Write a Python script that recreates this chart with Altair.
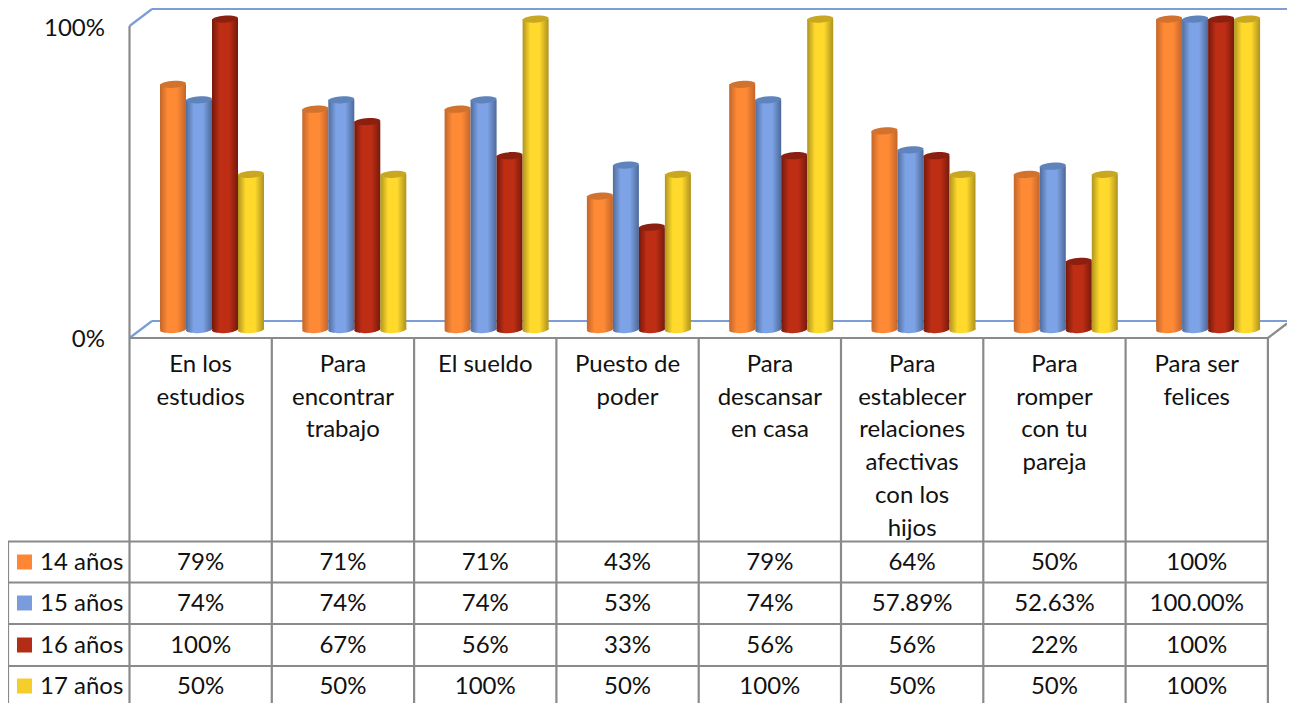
import altair as alt
import pandas as pd

categories = ["En los\nestudios", "Para\nencontrar\ntrabajo", "El sueldo", "Puesto de\npoder",
              "Para\ndescansar\nen casa", "Para\nestablecer\nrelaciones\nafectivas\ncon los\nhijos",
              "Para\nromper\ncon tu\npareja", "Para ser\nfelices"]
series = ["14 años", "15 años", "16 años", "17 años"]
v14 = [79, 71, 71, 43, 79, 64, 50, 100]
v15 = [74, 74, 74, 53, 74, 57.89, 52.63, 100]
v16 = [100, 67, 56, 33, 56, 56, 22, 100]
v17 = [50, 50, 100, 50, 100, 50, 50, 100]
l14 = ["79%", "71%", "71%", "43%", "79%", "64%", "50%", "100%"]
l15 = ["74%", "74%", "74%", "53%", "74%", "57.89%", "52.63%", "100.00%"]
l16 = ["100%", "67%", "56%", "33%", "56%", "56%", "22%", "100%"]
l17 = ["50%", "50%", "100%", "50%", "100%", "50%", "50%", "100%"]
values = [v14, v15, v16, v17]
labels = [l14, l15, l16, l17]
swatch = ["#FF8635", "#7A9CDC", "#B32C16", "#F5CE2C"]
shades = [("#C2662A", "#FF8A36", "#C4652A"), ("#4F6C9C", "#7DA3E6", "#4D699A"),
          ("#74180B", "#BE2E15", "#761A0C"), ("#B0941E", "#FFDA2C", "#AE921E")]
caps = ["#D2722F", "#5F84BC", "#8C2010", "#C9A722"]

W, H = 1279, 695
COL = 142.3
X0 = 129.5


# page pixels -> data units of the one shared x / y scale
def xv(px):
    return (px - X0) / COL


def yv(py):
    return (329.6 - py) / 3.105


xs = alt.Scale(domain=[xv(8), xv(8 + W)], range=[0, W], nice=False, zero=False)
ys = alt.Scale(domain=[yv(8 + H), yv(8)], range=[H, 0], nice=False, zero=False)
X = alt.X("x:Q", scale=xs, axis=None)
Y = alt.Y("y:Q", scale=ys, axis=None)


def rules(segments, color, width=2):
    df = pd.DataFrame([{"x": xv(a), "y": yv(b), "x2": xv(c), "y2": yv(d)} for a, b, c, d in segments])
    return alt.Chart(df).mark_rule(color=color, strokeWidth=width).encode(
        x=X, y=Y, x2="x2:Q", y2="y2:Q")


GRID = "#8A8A8A"
BLUE = "#7C9DD6"
col_x = [X0 + COL * i for i in range(9)]
row_y = [541.5, 582.5, 624, 666]

layers = [
    rules([(X0, 26, 152, 9), (152, 9, 1287, 9), (X0, 338, 152, 321), (152, 321, 1287, 321)], BLUE, 2.2),
    rules([(X0, 26, X0, 703), (X0, 338, col_x[8], 338), (col_x[8], 338, 1287, 323.5)]
          + [(x, 338, x, 703) for x in col_x[1:]]
          + [(8, y, col_x[8], y) for y in row_y] + [(8, row_y[0], 8, 703)], GRID, 2.2),
]

BAR_OFF = xv(160)
BAR_W = 26 / COL
ELLIPSE = "M-1,0.04 A1,0.27,-4,1,1,1,-0.04 A1,0.27,-4,1,1,-1,0.04 Z"
for j, s in enumerate(series):
    df = pd.DataFrame({
        "x": [i + BAR_OFF + j * BAR_W for i in range(8)],
        "x2": [i + BAR_OFF + (j + 1) * BAR_W for i in range(8)],
        "xc": [i + BAR_OFF + (j + 0.5) * BAR_W for i in range(8)],
        "y": values[j],
        "y0": [0] * 8,
    })
    grad = alt.Gradient(gradient="linear", x1=0, x2=1, y1=0, y2=0, stops=[
        alt.GradientStop(offset=0, color=shades[j][0]),
        alt.GradientStop(offset=0.3, color=shades[j][1]),
        alt.GradientStop(offset=0.65, color=shades[j][1]),
        alt.GradientStop(offset=1, color=shades[j][2]),
    ])
    base = alt.Chart(df)
    layers.append(base.mark_point(shape=ELLIPSE, size=676, filled=True, opacity=1, strokeWidth=0, color=grad)
                  .encode(x=alt.X("xc:Q", scale=xs, axis=None), y=alt.Y("y0:Q", scale=ys, axis=None)))
    layers.append(base.mark_bar(color=grad, strokeWidth=0).encode(x=X, x2="x2:Q", y=Y, y2="y0:Q"))
    layers.append(base.mark_point(shape=ELLIPSE, size=676, filled=True, opacity=1, strokeWidth=0, color=caps[j])
                  .encode(x=alt.X("xc:Q", scale=xs, axis=None), y=Y))

FONT = dict(font="Lato", fontSize=24, color="#111111")

# y axis labels
axis_df = pd.DataFrame({"x": [xv(105)] * 2, "y": [yv(29), yv(340)], "t": ["100%", "0%"]})
layers.append(alt.Chart(axis_df).mark_text(align="right", baseline="middle", **FONT)
              .encode(x=X, y=Y, text="t:N"))

# category labels
cat_df = pd.DataFrame({"x": [i + 0.5 for i in range(8)], "y": [yv(353)] * 8, "t": categories})
layers.append(alt.Chart(cat_df).mark_text(align="center", baseline="top", lineBreak="\n", lineHeight=32.7, **FONT)
              .encode(x=X, y=Y, text="t:N"))

# table
row_c = [563, 604, 646, 687]
cell_rows = []
for j in range(4):
    for i in range(8):
        cell_rows.append({"x": i + 0.5, "y": yv(row_c[j]), "t": labels[j][i]})
layers.append(alt.Chart(pd.DataFrame(cell_rows)).mark_text(align="center", baseline="middle", **FONT)
              .encode(x=X, y=Y, text="t:N"))

head_df = pd.DataFrame({"x": [xv(40)] * 4, "y": [yv(c) for c in row_c], "t": series})
layers.append(alt.Chart(head_df).mark_text(align="left", baseline="middle", **FONT)
              .encode(x=X, y=Y, text="t:N"))

sw_df = pd.DataFrame({"x": [xv(24.5)] * 4, "y": [yv(c - 1) for c in row_c], "s": series})
layers.append(alt.Chart(sw_df).mark_point(shape="square", size=225, filled=True, opacity=1, strokeWidth=0)
              .encode(x=X, y=Y, color=alt.Color("s:N", scale=alt.Scale(domain=series, range=swatch), legend=None)))

chart = alt.layer(*layers).properties(
    width=W, height=H, padding=0, autosize=alt.AutoSizeParams(type="none"),
).configure_view(stroke=None)

chart.save("out.html", embed_options={"renderer": "svg", "actions": False})
